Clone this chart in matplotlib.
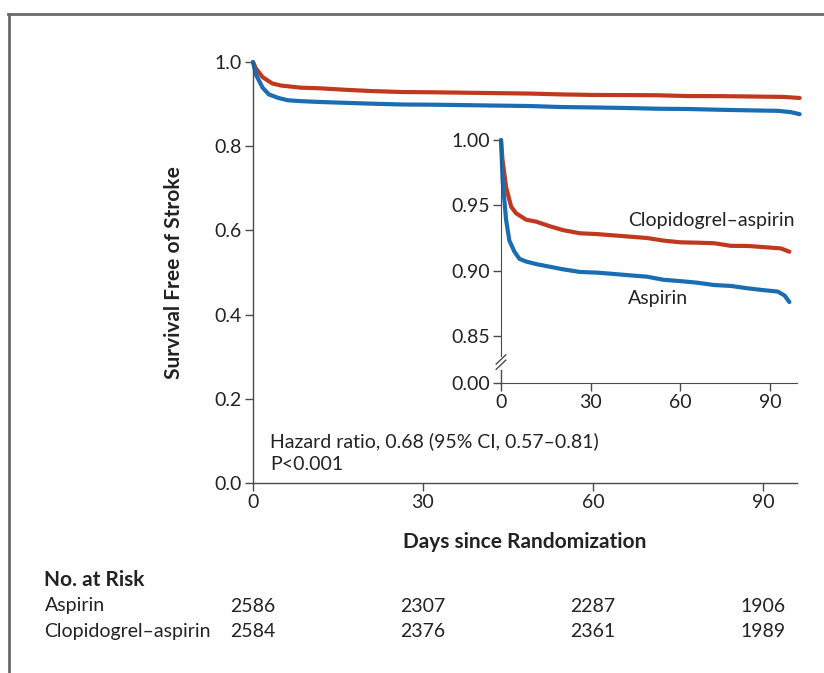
import numpy as np
import matplotlib
matplotlib.use('Agg')
import matplotlib.pyplot as plt
from matplotlib.lines import Line2D

plt.rcParams['font.family'] = ['Lato', 'DejaVu Sans']

# Kaplan-Meier curves
days_clop = [0, 0.5, 1.7, 3.4, 5, 8.4, 11.8, 16.3, 20.8, 26.4, 32, 37.6, 43.2, 48.8,
             54.4, 60, 65.6, 71.3, 76.9, 82.5, 88.1, 93.7, 96.5]
surv_clop = [1.0, 0.985, 0.964, 0.949, 0.944, 0.939, 0.9375, 0.934, 0.931, 0.9286, 0.928,
             0.927, 0.926, 0.925, 0.923, 0.9217, 0.9214, 0.921, 0.919, 0.9189, 0.918,
             0.917, 0.9145]
days_asp = [0, 0.56, 1.7, 2.8, 4.5, 6.2, 8.4, 11.8, 16.3, 20.8, 26.4, 32, 37.6, 43.2,
            48.8, 54.4, 60, 65.6, 71.3, 76.9, 82.5, 88.1, 92.6, 94.9, 96.5]
surv_asp = [1.0, 0.969, 0.939, 0.923, 0.9145, 0.909, 0.907, 0.905, 0.903, 0.901, 0.899,
            0.8985, 0.8975, 0.8964, 0.8954, 0.893, 0.892, 0.8908, 0.889, 0.8883, 0.8865,
            0.885, 0.884, 0.881, 0.876]

risk_days = [0, 30, 60, 90]
risk_asp = [2586, 2307, 2287, 1906]
risk_clop = [2584, 2376, 2361, 1989]

red = '#c0391f'
blue = '#1a6db2'
spine_c = '#4a4a4a'
txt = '#222222'
fs = 14
fsb = 15

fig = plt.figure(figsize=(8.24, 6.73), dpi=100)

# outer frame
fig.add_artist(Line2D([0.010, 1.0], [0.979, 0.979], color='#6a6a6a', lw=2))
fig.add_artist(Line2D([0.011, 0.011], [0.0, 0.979], color='#6a6a6a', lw=2))

ax = fig.add_axes([0.307, 0.2823, 0.660, 0.6256])
ax.plot(days_clop, surv_clop, color=red, lw=3, clip_on=False, solid_capstyle='round')
ax.plot(days_asp, surv_asp, color=blue, lw=3, clip_on=False, solid_capstyle='round')
ax.set_xlim(0, 96)
ax.set_ylim(0, 1)
ax.set_xticks([0, 30, 60, 90])
ax.set_yticks([0, 0.2, 0.4, 0.6, 0.8, 1.0])
ax.set_yticklabels(['0.0', '0.2', '0.4', '0.6', '0.8', '1.0'])
for s in ['top', 'right']:
    ax.spines[s].set_visible(False)
for s in ['left', 'bottom']:
    ax.spines[s].set_color(spine_c)
    ax.spines[s].set_linewidth(1)
ax.tick_params(direction='out', length=6, width=1, color=spine_c, labelsize=fs,
               labelcolor=txt, pad=2)
ax.set_ylabel('Survival Free of Stroke', fontsize=fsb, fontweight='bold', color=txt,
              labelpad=22)
ax.set_xlabel('Days since Randomization', fontsize=fsb, fontweight='bold', color=txt,
              labelpad=15)
ax.text(3.0, 0.1, 'Hazard ratio, 0.68 (95% CI, 0.57\u20130.81)', fontsize=fs, color=txt,
        va='center')
ax.text(3.0, 0.045, 'P<0.001', fontsize=fs, color=txt, va='center')

# number at risk
fig.text(0.054, 1 - 580 / 673, 'No. at Risk', fontsize=fsb, fontweight='bold', color=txt,
         va='center')
fig.text(0.054, 1 - 606 / 673, 'Aspirin', fontsize=fs, color=txt, va='center')
fig.text(0.054, 1 - 631 / 673, 'Clopidogrel\u2013aspirin', fontsize=fs, color=txt,
         va='center')
trans = ax.get_xaxis_transform()
for d, a, c in zip(risk_days, risk_asp, risk_clop):
    ax.text(d, -(606 - 483) / 421, str(a), transform=trans, ha='center', va='center',
            fontsize=fs, color=txt, clip_on=False)
    ax.text(d, -(631 - 483) / 421, str(c), transform=trans, ha='center', va='center',
            fontsize=fs, color=txt, clip_on=False)

# inset with broken y axis
y0 = 0.814
ins = fig.add_axes([0.608, 1 - 383 / 673, 0.359, (383 - 140) / 673])
ins.set_facecolor('white')
ins.plot(days_clop, surv_clop, color=red, lw=3, clip_on=False, solid_capstyle='round')
ins.plot(days_asp, surv_asp, color=blue, lw=3, clip_on=False, solid_capstyle='round')
ins.set_xlim(0, 99)
ins.set_ylim(y0, 1.0)
ins.set_xticks([0, 30, 60, 90])
ins.set_yticks([y0, 0.85, 0.90, 0.95, 1.00])
ins.set_yticklabels(['0.00', '0.85', '0.90', '0.95', '1.00'])
for s in ['top', 'right']:
    ins.spines[s].set_visible(False)
ins.spines['bottom'].set_color(spine_c)
ins.spines['left'].set_color(spine_c)
ins.spines['left'].set_bounds(0.835, 1.0)
ins.plot([0, 0], [y0, 0.824], color=spine_c, lw=1, clip_on=False)
ins.plot([-1.6, 1.6], [0.8245, 0.8315], color=spine_c, lw=1, clip_on=False)
ins.plot([-1.6, 1.6], [0.8285, 0.8355], color=spine_c, lw=1, clip_on=False)
ins.tick_params(direction='out', length=6, width=1, color=spine_c, labelsize=fs,
                labelcolor=txt, pad=2)
ins.text(42.5, 0.9385, 'Clopidogrel\u2013aspirin', fontsize=fs, color=txt, va='center')
ins.text(42.5, 0.879, 'Aspirin', fontsize=fs, color=txt, va='center')

fig.savefig('out.png', dpi=100)
